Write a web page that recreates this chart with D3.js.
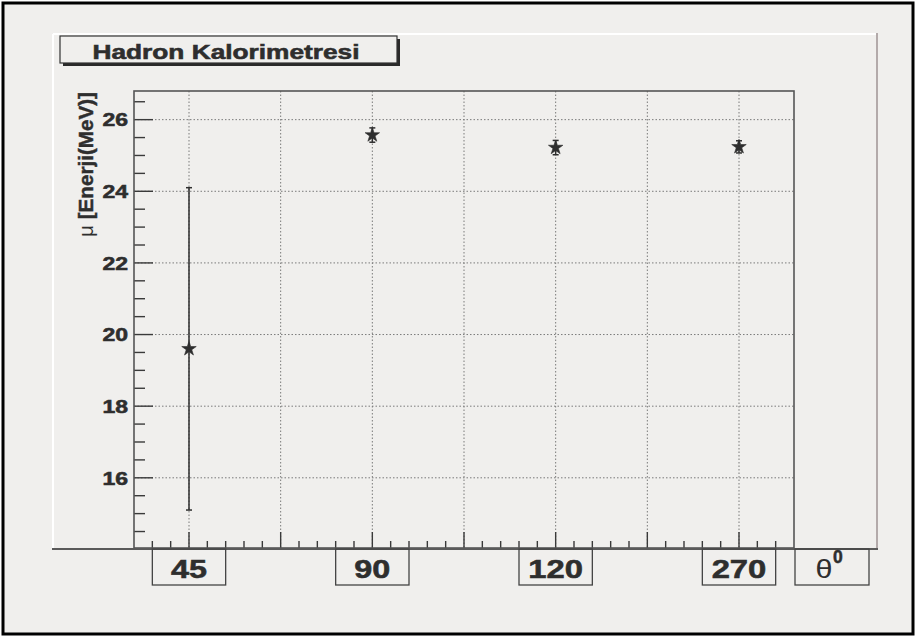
<!DOCTYPE html>
<html>
<head>
<meta charset="utf-8">
<script src="https://cdn.jsdelivr.net/npm/d3@7"></script>
<style>
  html, body { margin: 0; padding: 0; background: #ffffff; }
  svg { display: block; }
  text { font-family: "Liberation Sans", Arial, Helvetica, sans-serif; fill: #2e2e2e; }
  text.heavy { stroke: #2e2e2e; stroke-width: 0.55; }
</style>
</head>
<body>
<svg id="chart" width="916" height="637"></svg>
<script>
// ---- data ----
const categories = ["45", "90", "120", "270"];
const binCenters = [1, 3, 5, 7];          // axis positions of the category bins
const means = [19.6, 25.57, 25.22, 25.24];
const errors = [4.5, 0.2, 0.2, 0.17];
const yTicks = [16, 18, 20, 22, 24, 26];
const titleText = "Hadron Kalorimetresi";
const yTitleSymbol = "μ";
const yTitleText = " [Enerji(MeV)]";
const xTitleSymbol = "θ";
const xTitleSup = "0";

// ---- layout ----
const W = 916, H = 637;
const frame = { left: 134, right: 794, top: 91, bottom: 548 };
const bg = "#f0efed";
const ink = "#2e2e2e";
const axisCol = "#555555";

const svg = d3.select("#chart");

// outer canvas
svg.append("rect").attr("x", 0).attr("y", 0).attr("width", W).attr("height", H).attr("fill", "#ffffff");
svg.append("rect").attr("x", 3).attr("y", 3).attr("width", 910).attr("height", 631)
  .attr("fill", bg).attr("stroke", "#000").attr("stroke-width", 3);

// pad bevel
const pad = { left: 53, right: 877, top: 34, bottom: 549 };
svg.append("line").attr("x1", pad.left).attr("x2", pad.right).attr("y1", pad.top).attr("y2", pad.top)
  .attr("stroke", "#ffffff").attr("stroke-width", 2);
svg.append("line").attr("x1", pad.left).attr("x2", pad.left).attr("y1", pad.top).attr("y2", pad.bottom)
  .attr("stroke", "#ffffff").attr("stroke-width", 2);
svg.append("line").attr("x1", pad.right).attr("x2", pad.right).attr("y1", pad.top - 1).attr("y2", pad.bottom)
  .attr("stroke", "#b3aaaa").attr("stroke-width", 2);

// scales
const x = d3.scaleLinear().domain([0.4, 7.6]).range([frame.left, frame.right]);
const y = d3.scaleLinear().domain([14.04, 26.8]).range([frame.bottom, frame.top]);

// grid (dotted)
const grid = svg.append("g").attr("stroke", "#7a7a7a").attr("stroke-width", 1).attr("stroke-dasharray", "1.5,2");
const xMajors = d3.range(1, 8);
grid.selectAll("line.vx").data(xMajors).join("line")
  .attr("x1", d => x(d)).attr("x2", d => x(d))
  .attr("y1", frame.top).attr("y2", frame.bottom);
grid.selectAll("line.hy").data(yTicks).join("line")
  .attr("x1", frame.left).attr("x2", frame.right)
  .attr("y1", d => y(d)).attr("y2", d => y(d));

// ticks
const ticks = svg.append("g").attr("stroke", "#3a3a3a").attr("stroke-width", 1.4);
const yMinor = d3.range(14.5, 26.8, 0.5).filter(v => yTicks.indexOf(v) < 0);
ticks.selectAll("line.ymin").data(yMinor).join("line")
  .attr("x1", frame.left).attr("x2", frame.left + 11)
  .attr("y1", d => y(d)).attr("y2", d => y(d));
ticks.selectAll("line.ymaj").data(yTicks).join("line")
  .attr("x1", frame.left).attr("x2", frame.left + 19)
  .attr("y1", d => y(d)).attr("y2", d => y(d));
const xMinor = d3.range(0.6, 7.5, 0.2).filter(v => Math.abs(v - Math.round(v)) > 0.05);
ticks.selectAll("line.xmin").data(xMinor).join("line")
  .attr("x1", d => x(d)).attr("x2", d => x(d))
  .attr("y1", frame.bottom).attr("y2", frame.bottom - 7);
ticks.selectAll("line.xmaj").data(xMajors).join("line")
  .attr("x1", d => x(d)).attr("x2", d => x(d))
  .attr("y1", frame.bottom).attr("y2", frame.bottom - 16);

// frame
svg.append("rect").attr("x", frame.left).attr("y", frame.top)
  .attr("width", frame.right - frame.left).attr("height", frame.bottom - frame.top)
  .attr("fill", "none").attr("stroke", axisCol).attr("stroke-width", 1.6);
// pad bottom edge (spans the pad)
svg.append("line").attr("x1", pad.left - 1).attr("x2", pad.right + 1).attr("y1", pad.bottom).attr("y2", pad.bottom)
  .attr("stroke", "#5a5a5a").attr("stroke-width", 2);

// y tick labels
svg.append("g").selectAll("text").data(yTicks).join("text")
  .attr("class", "heavy")
  .attr("x", frame.left - 6).attr("y", d => y(d) + 6.8)
  .attr("text-anchor", "end")
  .attr("font-size", 18.5).attr("font-weight", "bold")
  .attr("textLength", 25.6).attr("lengthAdjust", "spacingAndGlyphs")
  .text(d => d);

// x category label boxes
const xl = svg.append("g");
categories.forEach((c, i) => {
  const cx = x(binCenters[i]);
  const x0 = x(binCenters[i] - 0.4), x1 = x(binCenters[i] + 0.4);
  xl.append("rect").attr("x", x0).attr("y", pad.bottom).attr("width", x1 - x0).attr("height", 36)
    .attr("fill", "none").attr("stroke", "#444").attr("stroke-width", 1.3);
  xl.append("text").attr("class", "heavy").attr("x", cx).attr("y", 578).attr("text-anchor", "middle")
    .attr("font-size", 26.5).attr("font-weight", "bold")
    .attr("textLength", c.length === 2 ? 36 : 54.7).attr("lengthAdjust", "spacingAndGlyphs")
    .text(c);
});

// x title box
svg.append("rect").attr("x", 795).attr("y", pad.bottom).attr("width", 74).attr("height", 36)
  .attr("fill", "none").attr("stroke", "#444").attr("stroke-width", 1.3);
const xt = svg.append("text").attr("x", 815.5).attr("y", 577.5).attr("font-size", 26);
xt.append("tspan").attr("textLength", 17).attr("lengthAdjust", "spacingAndGlyphs").text(xTitleSymbol);
xt.append("tspan").attr("class", "heavy").attr("x", 833).attr("y", 563).attr("font-size", 17.5)
  .attr("font-weight", "bold").attr("stroke", ink).attr("stroke-width", 0.5).text(xTitleSup);

// y axis title
const yt = svg.append("text")
  .attr("transform", "translate(93,92) rotate(-90)")
  .attr("text-anchor", "end")
  .attr("font-size", 19.5).attr("font-weight", "bold")
  .attr("textLength", 145).attr("lengthAdjust", "spacingAndGlyphs");
yt.append("tspan").attr("font-weight", "normal").text(yTitleSymbol);
yt.append("tspan").attr("stroke", ink).attr("stroke-width", 0.45).text(yTitleText);

// title box with shadow
svg.append("rect").attr("x", 63).attr("y", 39).attr("width", 337).attr("height", 27).attr("fill", "#2a2a2a");
svg.append("rect").attr("x", 60).attr("y", 36).attr("width", 337).attr("height", 27)
  .attr("fill", bg).attr("stroke", "#333").attr("stroke-width", 1.2);
svg.append("text").attr("class", "heavy").attr("x", 226).attr("y", 59).attr("text-anchor", "middle")
  .attr("font-size", 19.5).attr("font-weight", "bold")
  .attr("textLength", 267).attr("lengthAdjust", "spacingAndGlyphs")
  .text(titleText);

// data: error bars + markers
const pts = means.map((m, i) => ({ pos: binCenters[i], m, e: errors[i] }));
const eb = svg.append("g").attr("stroke", ink).attr("stroke-width", 1.5);
eb.selectAll("line.bar").data(pts).join("line")
  .attr("x1", d => x(d.pos)).attr("x2", d => x(d.pos))
  .attr("y1", d => y(d.m + d.e)).attr("y2", d => y(d.m - d.e));
eb.selectAll("line.capt").data(pts).join("line")
  .attr("x1", d => x(d.pos) - 3).attr("x2", d => x(d.pos) + 3)
  .attr("y1", d => y(d.m + d.e)).attr("y2", d => y(d.m + d.e));
eb.selectAll("line.capb").data(pts).join("line")
  .attr("x1", d => x(d.pos) - 3).attr("x2", d => x(d.pos) + 3)
  .attr("y1", d => y(d.m - d.e)).attr("y2", d => y(d.m - d.e));
svg.append("g").selectAll("path").data(pts).join("path")
  .attr("transform", d => `translate(${x(d.pos)},${y(d.m)})`)
  .attr("d", d3.symbol().type(d3.symbolStar).size(65))
  .attr("fill", ink).attr("stroke", ink).attr("stroke-width", 0.6);
</script>
</body>
</html>
